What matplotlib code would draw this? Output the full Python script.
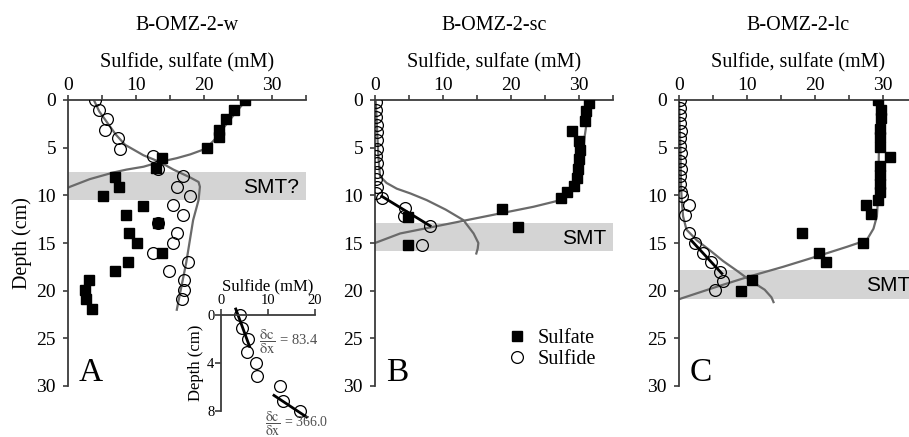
import matplotlib
matplotlib.use('Agg')
import matplotlib.pyplot as plt
from matplotlib.lines import Line2D
from matplotlib.ticker import MultipleLocator

plt.rcParams['font.family'] = ['Liberation Serif', 'DejaVu Serif']
plt.rcParams['mathtext.fontset'] = 'stix'

# ---- core B-OMZ-2-w ----
a_sulfide_conc = [4.0, 4.6, 5.7, 5.5, 7.4, 7.7, 12.5, 13.2, 16.9, 16.1, 17.9, 15.5,
                  16.9, 13.2, 16.0, 15.4, 12.5, 17.6, 14.9, 17.0, 17.1, 16.7]
a_sulfide_depth = [0, 1.05, 2.0, 3.1, 4.0, 5.1, 5.9, 7.2, 8.0, 9.1, 10.1, 11.0,
                   12.1, 12.9, 13.9, 15.0, 16.0, 17.0, 17.9, 18.9, 19.9, 20.9]
a_sulfate_conc = [26.0, 24.4, 23.2, 22.2, 22.2, 20.4, 13.8, 12.9, 6.9, 7.5, 5.1, 11.0,
                  8.5, 13.2, 9.0, 10.1, 13.8, 8.8, 6.9, 3.1, 2.5, 2.6, 3.6]
a_sulfate_depth = [0, 1.05, 1.95, 3.1, 3.9, 5.0, 6.05, 7.1, 8.1, 9.1, 10.1, 11.1,
                   12.1, 12.9, 13.9, 15.0, 16.0, 17.0, 17.9, 18.9, 19.9, 20.9, 21.9]
a_sulfide_fit_conc = [3.8, 4.6, 5.7, 7.0, 8.4, 11.1, 13.5, 15.5, 17.9, 19.2, 19.4,
                      19.2, 18.4, 17.4, 16.0]
a_sulfide_fit_depth = [0, 1.2, 2.3, 3.6, 4.7, 5.8, 6.5, 7.3, 8.1, 8.6, 9.1,
                       10.5, 12.6, 17.0, 22.0]
a_sulfate_fit_conc = [26.2, 24.8, 23.0, 21.5, 20.3, 18.0, 16.0, 13.5, 11.1, 8.6,
                      6.7, 3.2, 0.3, 0.0]
a_sulfate_fit_depth = [0, 1.2, 2.8, 4.2, 5.1, 5.7, 6.1, 6.5, 7.0, 7.3,
                       7.6, 8.3, 9.1, 9.2]
a_smt = (7.6, 10.5)

# upper sulfide gradients shown in the inset of core w
inset_fit1_conc = [3.2, 6.1]
inset_fit1_depth = [-0.5, 2.6]
inset_fit2_conc = [11.3, 18.2]
inset_fit2_depth = [6.7, 8.5]
inset_gradients = ['83.4', '366.0']

# ---- core B-OMZ-2-sc ----
b_sulfide_conc = [0.1, 0.2, 0.2, 0.3, 0.3, 0.3, 0.3, 0.2, 0.3, 0.3, 0.2, 0.3, 0.2,
                  1.0, 4.4, 4.2, 8.1, 6.9]
b_sulfide_depth = [0.2, 1.0, 1.8, 2.6, 3.4, 4.2, 5.1, 5.9, 6.6, 7.5, 8.3, 9.1, 9.8,
                   10.3, 11.3, 12.2, 13.2, 15.2]
b_sulfate_conc = [31.5, 31.1, 30.9, 29.0, 30.0, 30.1, 30.0, 29.9, 29.7, 29.2, 28.3,
                  27.4, 18.7, 4.9, 21.1, 4.8]
b_sulfate_depth = [0.3, 1.2, 2.2, 3.3, 4.3, 5.2, 6.2, 7.2, 8.2, 9.0, 9.6,
                   10.3, 11.4, 12.3, 13.3, 15.2]
b_sulfide_fit_conc = [0.1, 0.3, 0.5, 0.74, 1.7, 3.2, 5.2, 7.6, 10.4, 13.0, 14.5,
                      15.2, 15.1, 14.9]
b_sulfide_fit_depth = [0, 3, 6, 8.0, 8.7, 9.3, 9.8, 10.5, 11.5, 12.6, 14.0,
                       15.0, 15.6, 16.1]
b_sulfate_fit_conc = [31.7, 31.2, 30.8, 30.5, 30.2, 29.5, 28.3, 27.3, 23.3, 18.4,
                      13.5, 8.6, 3.7, 0.0]
b_sulfate_fit_depth = [0, 2, 4, 6.5, 8, 9.2, 10.0, 10.5, 11.2, 11.9,
                       12.6, 13.3, 14.0, 15.0]
b_fit_conc = [1.0, 8.1]
b_fit_depth = [10.1, 13.2]
b_smt = (12.9, 15.8)

# ---- core B-OMZ-2-lc ----
c_sulfide_conc = [0.1, 0.2, 0.2, 0.2, 0.3, 0.2, 0.2, 0.3, 0.2, 0.3, 0.2, 0.2, 0.3,
                  0.4, 1.4, 0.9, 1.4, 2.4, 3.5, 4.7, 6.0, 6.4, 5.3]
c_sulfide_depth = [0, 0.8, 1.6, 2.4, 3.2, 4.0, 4.8, 5.6, 6.4, 7.2, 8.0, 8.8, 9.6,
                   10.1, 11.0, 12.1, 14.0, 15.0, 16.0, 17.0, 18.0, 19.0, 19.9]
c_sulfate_conc = [29.3, 29.7, 29.7, 29.6, 29.5, 29.6, 31.1, 29.6, 29.5, 29.6, 29.6,
                  29.3, 27.5, 28.3, 18.1, 27.1, 20.6, 21.6, 10.8, 9.1]
c_sulfate_depth = [0, 1.05, 1.9, 3.0, 3.85, 4.9, 5.95, 6.9, 7.9, 8.85, 9.7,
                   10.5, 11.0, 12.0, 14.0, 15.0, 16.0, 17.0, 18.9, 20.0]
c_sulfide_fit_conc = [0.0, 0.2, 0.3, 0.4, 0.6, 1.1, 2.6, 4.6, 6.5, 8.5, 10.4,
                      12.6, 13.6, 13.9]
c_sulfide_fit_depth = [0, 5, 9, 10.5, 12.2, 13.6, 14.7, 15.8, 16.9, 17.9, 18.9,
                       19.9, 20.7, 21.2]
c_sulfate_fit_conc = [29.4, 29.4, 29.3, 29.1, 28.6, 27.6, 24.7, 20.3, 15.3, 10.4,
                      5.5, 0.4, 0.0]
c_sulfate_fit_depth = [0, 5, 10, 12.2, 13.5, 14.7, 15.4, 16.4, 17.5, 18.5,
                       19.6, 20.8, 20.9]
c_fit_conc = [1.9, 6.3]
c_fit_depth = [14.8, 18.2]
c_smt = (17.8, 20.9)

titles = ['B-OMZ-2-w', 'B-OMZ-2-sc', 'B-OMZ-2-lc']
letters = ['A', 'B', 'C']
smt_labels = ['SMT?', 'SMT', 'SMT']

spine_col = '#3c3c3c'
fit_col = '#6a6a6a'
band_col = '#d4d4d4'


def style_axes(ax, xmax, ymax, xstep, ystep, minor=None, size=14, length=3.6, ypad=5):
    ax.set_xlim(0, xmax)
    ax.set_ylim(ymax, 0)
    ax.xaxis.tick_top()
    ax.xaxis.set_label_position('top')
    for side in ('right', 'bottom'):
        ax.spines[side].set_visible(False)
    for side in ('top', 'left'):
        ax.spines[side].set_color(spine_col)
        ax.spines[side].set_linewidth(1.3)
    ax.xaxis.set_major_locator(MultipleLocator(xstep))
    if minor:
        ax.xaxis.set_minor_locator(MultipleLocator(minor))
    ax.yaxis.set_major_locator(MultipleLocator(ystep))
    ax.tick_params(which='both', direction='out', length=length, width=1.2,
                   color=spine_col, labelsize=size)
    ax.tick_params(axis='x', which='both', pad=1)
    ax.tick_params(axis='y', pad=ypad)
    ax.set_facecolor('none')


fig = plt.figure(figsize=(9.09, 4.37), dpi=100)
W, H = 909.0, 437.0
lefts = [68, 375, 679]
axes = [fig.add_axes([l / W, 1 - 386 / H, 238 / W, 286 / H]) for l in lefts]

panels = [
    (a_sulfide_conc, a_sulfide_depth, a_sulfate_conc, a_sulfate_depth,
     a_sulfide_fit_conc, a_sulfide_fit_depth, a_sulfate_fit_conc, a_sulfate_fit_depth,
     None, None, a_smt),
    (b_sulfide_conc, b_sulfide_depth, b_sulfate_conc, b_sulfate_depth,
     b_sulfide_fit_conc, b_sulfide_fit_depth, b_sulfate_fit_conc, b_sulfate_fit_depth,
     b_fit_conc, b_fit_depth, b_smt),
    (c_sulfide_conc, c_sulfide_depth, c_sulfate_conc, c_sulfate_depth,
     c_sulfide_fit_conc, c_sulfide_fit_depth, c_sulfate_fit_conc, c_sulfate_fit_depth,
     c_fit_conc, c_fit_depth, c_smt),
]

for i, (ax, p) in enumerate(zip(axes, panels)):
    (s_x, s_d, so4_x, so4_d, sf_x, sf_d, so4f_x, so4f_d, lin_x, lin_d, smt) = p
    style_axes(ax, 35, 30, 10, 5, minor=5)
    ax.axhspan(smt[0], smt[1], color=band_col, lw=0, zorder=0)
    ax.text(34.0, (smt[0] + smt[1]) / 2 + 0.15, smt_labels[i], ha='right', va='center',
            family='Liberation Sans', fontsize=15)
    ax.plot(sf_x, sf_d, color=fit_col, lw=1.6, zorder=2)
    ax.plot(so4f_x, so4f_d, color=fit_col, lw=1.6, zorder=2)
    if lin_x is not None:
        ax.plot(lin_x, lin_d, color='black', lw=2.0, zorder=4)
    ax.plot(s_x, s_d, 'o', ms=8.5, mfc='none', mec='black', mew=0.9, zorder=3)
    ax.plot(so4_x, so4_d, 's', ms=7.3, color='black', zorder=3)
    ax.set_xlabel('Sulfide, sulfate (mM)', fontsize=14.5, labelpad=6.5)
    ax.text(0.5, 1 + 70 / 286, titles[i], transform=ax.transAxes,
            ha='center', va='baseline', fontsize=14.5)
    ax.text(1.6, 29.5, letters[i], ha='left', va='baseline', fontsize=24)

axes[0].set_ylabel('Depth (cm)', fontsize=14.5, labelpad=3)

# legend in the middle panel
handles = [Line2D([], [], ls='none', marker='s', ms=7.3, color='black'),
           Line2D([], [], ls='none', marker='o', ms=8.5, mfc='none', mec='black', mew=0.9)]
axes[1].legend(handles, ['Sulfate', 'Sulfide'], loc='upper left',
               bbox_to_anchor=(0.555, 0.2), frameon=False, fontsize=14.5,
               handlelength=1.0, handletextpad=0.5, labelspacing=0.1,
               borderpad=0, borderaxespad=0)

# inset: upper sulfide gradient of core w
ins = fig.add_axes([220.7 / W, 1 - 411 / H, 94.3 / W, 96 / H])
style_axes(ins, 20, 8, 10, 4, size=10.5, length=4, ypad=0.5)
ins.tick_params(axis='x', pad=2)
ins.plot(a_sulfide_conc[:9], a_sulfide_depth[:9], 'o', ms=8.5, mfc='none',
         mec='black', mew=0.9, clip_on=False)
ins.plot(inset_fit1_conc, inset_fit1_depth, color='black', lw=2.0, clip_on=False)
ins.plot(inset_fit2_conc, inset_fit2_depth, color='black', lw=2.0, clip_on=False)
ins.set_xlabel('Sulfide (mM)', fontsize=12, labelpad=2)
ins.set_ylabel('Depth (cm)', fontsize=12, labelpad=2)
ins.text(8.1, 2.2, r'$\dfrac{\mathrm{\delta c}}{\mathrm{\delta x}}$ = ' + inset_gradients[0],
         ha='left', va='center', fontsize=10.5, color='#505050')
ins.text(9.4, 9.05, r'$\dfrac{\mathrm{\delta c}}{\mathrm{\delta x}}$ = ' + inset_gradients[1],
         ha='left', va='center', fontsize=10, color='#505050', clip_on=False)

fig.savefig('out.png', dpi=100)
